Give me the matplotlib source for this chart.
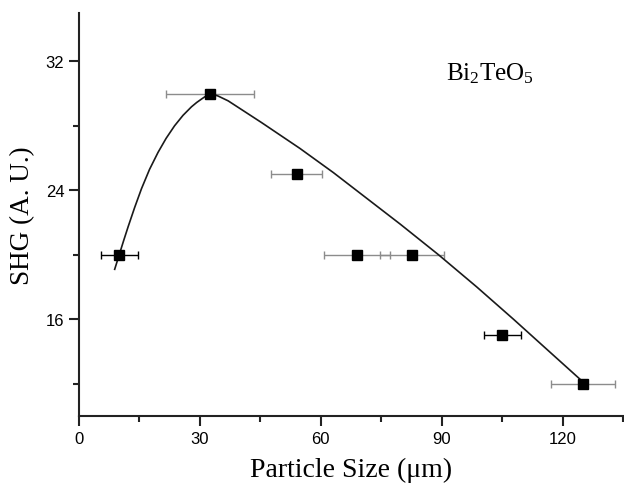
import matplotlib
matplotlib.use("Agg")
import matplotlib.pyplot as plt
from matplotlib.ticker import MultipleLocator

# measured points
size = [10, 32.5, 54, 69, 82.6, 105, 125]
shg = [20, 30, 25, 20, 20, 15, 12]
size_err = [4.6, 11, 6.3, 8.2, 8, 4.6, 8]
err_colors = ['black', '#8c8c8c', '#8c8c8c', '#8c8c8c', '#8c8c8c', 'black', '#8c8c8c']

# fit curve
curve_x = [8.85, 10.1, 11.1, 12.2, 13.8, 15.5, 17.5, 19.6, 21.6, 23.7, 25.8, 27.9,
           29.2, 30.5, 31.5, 32.5, 33.5, 34.5, 37.0, 41.0, 45.3, 54.8, 63.1, 71.4,
           79.7, 89.2, 98.7, 107.8, 115.2, 125.1]
curve_y = [19.1, 20.1, 20.9, 21.75, 22.93, 24.1, 25.3, 26.35, 27.22, 28.0, 28.65, 29.18,
           29.45, 29.68, 29.85, 29.98, 29.93, 29.85, 29.55, 28.9, 28.2, 26.6, 25.1, 23.5,
           21.9, 20.0, 18.0, 16.0, 14.33, 12.1]

plt.rcParams['mathtext.fontset'] = 'custom'
plt.rcParams['mathtext.rm'] = 'Liberation Serif'

fig = plt.figure(figsize=(6.24, 4.89), dpi=100)
ax = fig.add_axes([0.1266, 0.1472, 0.8734, 0.8242])

ax.plot(curve_x, curve_y, color='#1a1a1a', lw=1.2, zorder=2)
for x, y, e, c in zip(size, shg, size_err, err_colors):
    ax.errorbar(x, y, xerr=e, fmt='none', ecolor=c, elinewidth=1.0,
                capsize=3, capthick=1.0, zorder=1)
ax.plot(size, shg, 's', color='black', ms=7.5, zorder=3)

ax.set_xlim(0, 135.2)
ax.set_ylim(10, 35)
ax.xaxis.set_major_locator(MultipleLocator(30))
ax.xaxis.set_minor_locator(MultipleLocator(15))
ax.yaxis.set_minor_locator(MultipleLocator(4))
ax.set_yticks([16, 24, 32])

for s in ['top', 'right']:
    ax.spines[s].set_visible(False)
for s in ['left', 'bottom']:
    ax.spines[s].set_linewidth(1.5)
    ax.spines[s].set_color('#222222')

ax.tick_params(which='major', direction='out', length=7, width=1.5,
               labelsize=12, color='#222222')
ax.tick_params(which='minor', direction='out', length=4, width=1.5, color='#222222')
for lab in ax.get_xticklabels() + ax.get_yticklabels():
    lab.set_fontfamily('Liberation Sans')

ax.set_xlabel('Particle Size (\u03bcm)', fontfamily='Liberation Serif', fontsize=20, labelpad=8)
ax.set_ylabel('SHG (A. U.)', fontfamily='Liberation Serif', fontsize=19.5, labelpad=8)

ax.text(91, 30.9, r'$\mathrm{Bi_2TeO_5}$', fontsize=18, ha='left', va='baseline')

fig.savefig('out.png', dpi=100)
